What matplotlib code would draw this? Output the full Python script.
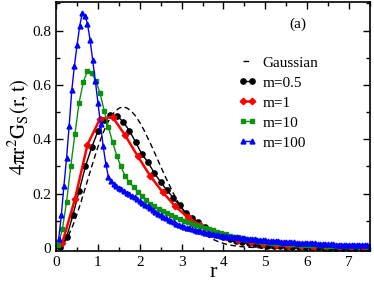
import numpy as np
import matplotlib
matplotlib.use("Agg")
import matplotlib.pyplot as plt
from matplotlib.ticker import MultipleLocator, FuncFormatter

plt.rcParams['font.family'] = ['Liberation Serif', 'DejaVu Serif']
plt.rcParams['mathtext.fontset'] = 'stix'

# Gaussian reference curve
gauss_r = np.round(np.arange(0, 7.51, 0.1), 2)
gauss_v = [0.0, 0.0055, 0.0216, 0.0478, 0.0826, 0.1246, 0.172, 0.2224, 0.274, 0.3245,
           0.372, 0.4147, 0.4514, 0.4804, 0.5016, 0.514, 0.52, 0.5145, 0.5034, 0.4852,
           0.4619, 0.434, 0.4021, 0.3694, 0.3347, 0.3001, 0.2661, 0.2335, 0.2022, 0.1737,
           0.1479, 0.1245, 0.1037, 0.0856, 0.07, 0.0567, 0.0455, 0.0362, 0.0285, 0.0222,
           0.0171, 0.013, 0.0099, 0.0075, 0.0056, 0.0041, 0.003, 0.0022, 0.0016, 0.0011,
           0.0008, 0.0005, 0.0004, 0.0003, 0.0002, 0.0001] + [0.0] * 20

# m = 0.5
m05_r = np.round(np.arange(0.1, 7.46, 0.15), 2)
m05_v = [0.005, 0.04, 0.12, 0.21, 0.3, 0.37, 0.43, 0.47, 0.488, 0.487,
         0.465, 0.432, 0.39, 0.345, 0.315, 0.275, 0.243, 0.212, 0.185, 0.157,
         0.13, 0.112, 0.095, 0.078, 0.064, 0.052, 0.042, 0.034, 0.027, 0.022,
         0.017, 0.014, 0.011, 0.009, 0.007, 0.006, 0.005, 0.004, 0.004, 0.003,
         0.003, 0.003, 0.002, 0.002, 0.002, 0.002, 0.001, 0.001, 0.001, 0.001]

# m = 1
m1_r = np.round(np.arange(0.15, 7.4, 0.3), 2)
m1_v = [0.02, 0.18, 0.38, 0.476, 0.482, 0.415, 0.338, 0.265, 0.205, 0.153,
        0.113, 0.083, 0.06, 0.042, 0.03, 0.021, 0.015, 0.011, 0.008, 0.006,
        0.005, 0.004, 0.003, 0.003, 0.002]

# m = 10
m10_r = np.round(np.arange(0.05, 7.46, 0.1), 2)
m10_v = [0.01, 0.07, 0.17, 0.3, 0.42, 0.535, 0.61, 0.652, 0.643, 0.615,
         0.57, 0.505, 0.445, 0.39, 0.34, 0.3, 0.265, 0.242, 0.225, 0.208,
         0.19, 0.175, 0.163, 0.153, 0.144, 0.136, 0.128, 0.12, 0.113, 0.107,
         0.1, 0.095, 0.09, 0.085, 0.08, 0.075, 0.07, 0.065, 0.06, 0.055,
         0.05, 0.046, 0.042, 0.039, 0.036, 0.033, 0.03, 0.028, 0.026, 0.024,
         0.022, 0.02, 0.019, 0.018, 0.017, 0.016, 0.015, 0.014, 0.013, 0.012,
         0.011, 0.011, 0.01, 0.01, 0.009, 0.009, 0.008, 0.008, 0.007, 0.007,
         0.007, 0.006, 0.006, 0.006, 0.005]

# m = 100
m100_r = np.arange(1, 121) * 0.0625
m100_v = [0.035, 0.12, 0.23, 0.33, 0.45, 0.58, 0.67, 0.745, 0.815, 0.865,
          0.855, 0.825, 0.765, 0.69, 0.615, 0.535, 0.455, 0.375, 0.31, 0.262,
          0.245, 0.236, 0.229, 0.222, 0.216, 0.21, 0.204, 0.198, 0.192, 0.186,
          0.18, 0.174, 0.167, 0.16, 0.153, 0.146, 0.139, 0.133, 0.127, 0.121,
          0.115, 0.11, 0.105, 0.1, 0.095, 0.09, 0.086, 0.082, 0.078, 0.075,
          0.072, 0.069, 0.066, 0.064, 0.061, 0.059, 0.057, 0.055, 0.053, 0.051,
          0.049, 0.047, 0.046, 0.044, 0.043, 0.042, 0.041, 0.04, 0.039, 0.038,
          0.037, 0.036, 0.035, 0.034, 0.033, 0.032, 0.031, 0.03, 0.029, 0.028,
          0.027, 0.027, 0.026, 0.025, 0.025, 0.024, 0.023, 0.023, 0.022, 0.021,
          0.021, 0.02, 0.02, 0.019, 0.019, 0.018, 0.018, 0.017, 0.017, 0.016,
          0.016, 0.015, 0.015, 0.015, 0.014, 0.014, 0.013, 0.013, 0.013, 0.012,
          0.012, 0.012, 0.011, 0.011, 0.011, 0.01, 0.01, 0.01, 0.01, 0.009]

fig = plt.figure(figsize=(3.74, 2.84), dpi=100)
ax = fig.add_axes([0.150, 0.116, 0.839, 0.877])

ax.plot(gauss_r, gauss_v, '--', color='black', lw=1.0, dashes=(4, 2.5), label='Gaussian')
ax.plot(m05_r, m05_v, '-o', color='black', lw=1.0, ms=3.8, label='m=0.5')
ax.plot(m1_r, m1_v, '-D', color='red', lw=1.8, ms=3.3, label='m=1')
ax.plot(m10_r, m10_v, '-s', color='#109010', lw=1.0, ms=3.0, label='m=10')
ax.plot(m100_r, m100_v, '-^', color='blue', lw=1.0, ms=3.5, label='m=100')

ax.set_xlim(0, 7.5)
ax.set_ylim(-0.011, 0.905)
ax.xaxis.set_major_locator(MultipleLocator(1))
ax.xaxis.set_minor_locator(MultipleLocator(0.5))
ax.yaxis.set_major_locator(MultipleLocator(0.2))
ax.yaxis.set_minor_locator(MultipleLocator(0.1))
ax.yaxis.set_major_formatter(FuncFormatter(lambda v, p: '0' if abs(v) < 1e-9 else '%.1f' % v))
ax.tick_params(which='both', direction='in', top=True, right=True, labelsize=11, width=1)
ax.tick_params(which='major', length=5)
ax.tick_params(which='minor', length=3)
for s in ax.spines.values():
    s.set_linewidth(1.2)

ax.set_xlabel('r', fontsize=16, labelpad=-4)
ax.set_ylabel(r'$\mathrm{4\pi r^2 G_S(r,t)}$', fontsize=15, labelpad=1)
ax.text(0.77, 0.91, '(a)', transform=ax.transAxes, ha='center', va='center', fontsize=11)

ax.legend(loc='upper left', bbox_to_anchor=(0.58, 0.783), frameon=False, fontsize=11,
          numpoints=2, handlelength=1.2, handletextpad=0.4, labelspacing=0.41,
          borderpad=0, borderaxespad=0)

fig.savefig('out.png', dpi=100)
